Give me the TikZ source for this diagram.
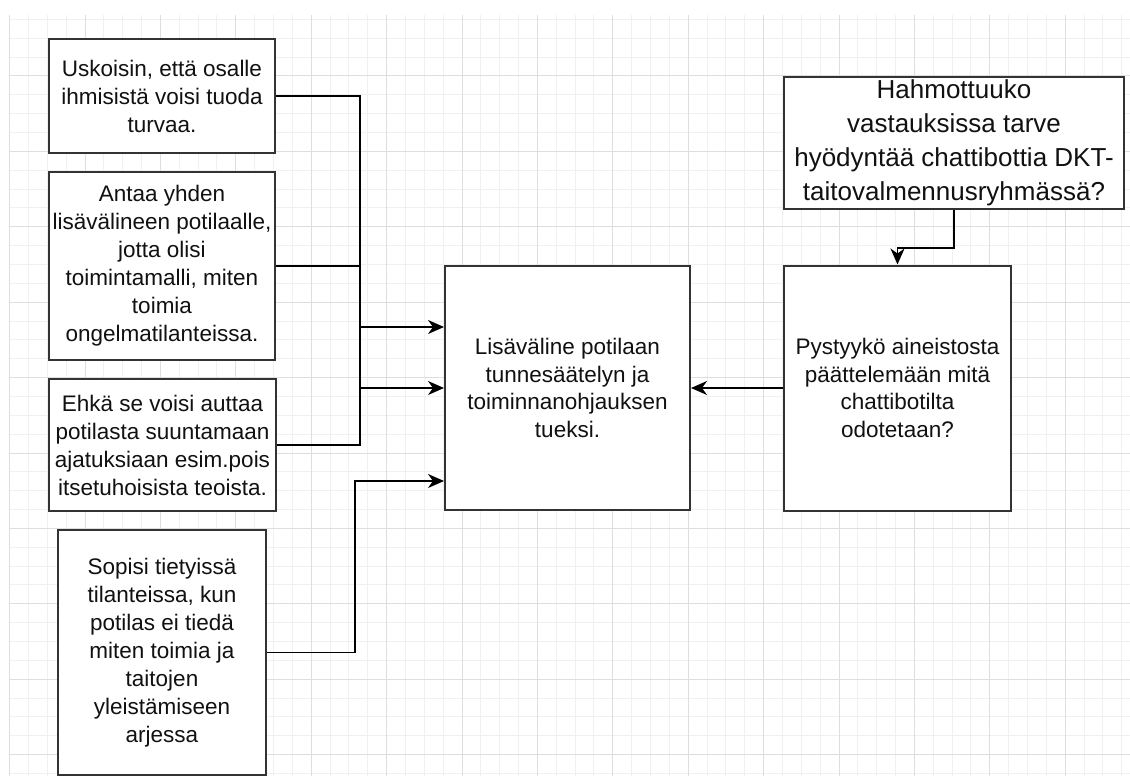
\documentclass[tikz,border=0pt]{standalone}
\usepackage{fontspec}
\setmainfont{Liberation Sans}
\usetikzlibrary{arrows.meta}
\definecolor{gridminor}{HTML}{F0F0F0}
\definecolor{gridmajor}{HTML}{DEDEDE}
\definecolor{boxline}{HTML}{333333}
\definecolor{txt}{HTML}{111111}
\tikzset{
  minorline/.style={draw=gridminor, line width=1pt},
  majorline/.style={draw=gridmajor, line width=1pt},
  textbox/.style={draw=boxline, line width=2pt, fill=white, rectangle, align=center, inner sep=0pt, text=txt,
    font=\fontsize{22.5pt}{28pt}\selectfont},
  bigbox/.style={textbox, font=\fontsize{26pt}{34pt}\selectfont},
  conn/.style={draw=black, line width=1.5pt},
  arr/.style={conn, -{Stealth[length=16pt,width=14pt,inset=5pt]}}
}
\begin{document}
\begin{tikzpicture}[x=1pt,y=-1pt]
\useasboundingbox[fill=white] (0,0) rectangle (1130,776);
% grid
\begin{scope}
\clip (9,15) rectangle (1130,776);
\foreach \k in {0,...,59} \draw[minorline] ({9.6+18.85*\k},15) -- ({9.6+18.85*\k},776);
\foreach \k in {-3,...,37} \draw[minorline] (9,{76+18.85*\k}) -- (1130,{76+18.85*\k});
\foreach \k in {0,...,14} \draw[majorline] ({9.6+75.4*\k},15) -- ({9.6+75.4*\k},776);
\foreach \k in {0,...,9} \draw[majorline] (9,{76+75.4*\k}) -- (1130,{76+75.4*\k});
\end{scope}
% nodes
\node[textbox, minimum width=226pt, minimum height=114pt] (b1) at (162,96) {Uskoisin, että osalle\\ihmisistä voisi tuoda\\turvaa.};
\node[textbox, minimum width=226pt, minimum height=188pt] (b2) at (162,266) {Antaa yhden\\lisävälineen potilaalle,\\jotta olisi\\toimintamalli, miten\\toimia\\ongelmatilanteissa.};
\node[textbox, minimum width=227pt, minimum height=132pt] (b3) at (162.5,445) {Ehkä se voisi auttaa\\potilasta suuntamaan\\ajatuksiaan esim.pois\\itsetuhoisista teoista.};
\node[textbox, minimum width=208pt, minimum height=245pt] (b4) at (162,652.5) {Sopisi tietyissä\\tilanteissa, kun\\potilas ei tiedä\\miten toimia ja\\taitojen\\yleistämiseen\\arjessa};
\node[textbox, minimum width=245pt, minimum height=244pt, font=\fontsize{22.5pt}{27.5pt}\selectfont] (c) at (567.5,388) {Lisäväline potilaan\\tunnesäätelyn ja\\toiminnanohjauksen\\tueksi.};
\node[textbox, minimum width=227pt, minimum height=245pt, font=\fontsize{22.5pt}{27.5pt}\selectfont] (r) at (897.5,388) {Pystyykö aineistosta\\päättelemään mitä\\chattibotilta\\odotetaan?};
\node[bigbox, minimum width=340pt, minimum height=132pt] (tr) at (954,143) {Hahmottuuko\\vastauksissa tarve\\hyödyntää chattibottia DKT-\\taitovalmennusryhmässä?};
% junction coordinates
\coordinate (jt) at (360,96);
\coordinate (jb) at (360,445);
\coordinate (a1) at (360,327);
\coordinate (a2) at (360,388);
\coordinate (k1) at (355,481);
% connectors
\draw[conn] (b1.east) -- (jt) -- (jb) -- (b3.east);
\draw[conn] (b2.east) -- (b2.east -| jt);
\draw[arr] (a1) -- (a1 -| c.west);
\draw[arr] (a2) -- (a2 -| c.west);
\draw[arr] (b4.east) -| (k1) -- (k1 -| c.west);
\draw[arr] (r.west) -- (c.east);
\draw[arr] (tr.south) -- ++(0,38) -| (r.north);
\end{tikzpicture}
\end{document}
